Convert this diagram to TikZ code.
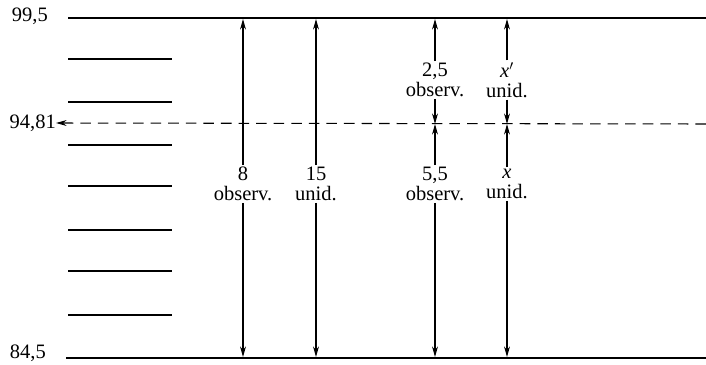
\documentclass[tikz,border=0pt]{standalone}
\usepackage{fontspec}
\setmainfont{Liberation Serif}
\usetikzlibrary{positioning, arrows.meta}

\begin{document}
\begin{tikzpicture}[
    x=0.03cm, y=-0.03cm,
    level/.style={line width=1.3pt},
    mark line/.style={line width=1.2pt},
    guide/.style={dash pattern=on 9pt off 6pt, line width=0.9pt},
    lbl/.style={
        align=center, inner sep=1.5pt,
        font=\fontsize{17.5}{17}\selectfont},
    val/.style={
        anchor=east, inner sep=0pt,
        font=\fontsize{17.5}{17}\selectfont},
    arr/.style={-{Stealth[length=9pt, width=5pt]}, line width=0.9pt}
]
\useasboundingbox (0,0) rectangle (706,364);

%% ── Limits (top and bottom) ─────────────────────────────────────
\coordinate (top_l) at (68, 18);
\coordinate (top_r) at (706, 18);
\coordinate (bot_l) at (66, 358);
\coordinate (bot_r) at (706, 358);
\draw[level] (top_l) -- (top_r);
\draw[level] (bot_l) -- (bot_r);
\node[val] (v_top) at (48, 16) {99,5};
\node[val] (v_bot) at (46, 353) {84,5};

%% ── Short marks (left) ──────────────────────────────────────────
\foreach \yy in {59, 102, 145, 186, 230, 271, 315}
    \draw[mark line] (68, \yy) -- (172, \yy);

%% ── Dashed guide ────────────────────────────────────────────────
\coordinate (mid_r) at (706, 124);
\node[val] (v_mid) at (56, 123) {94,81};
\draw[guide, -{Stealth[length=9pt, width=5pt]}] (mid_r) -- (v_mid.east);

%% ── Full-range labels ───────────────────────────────────────────
\node[lbl] (l8)  at (243, 184) {8\\observ.};
\node[lbl] (l15) at (316, 184) {15\\unid.};

%% ── Split labels ────────────────────────────────────────────────
\node[lbl] (l25) at (435, 80)  {2,5\\observ.};
\node[lbl] (lxp) at (507, 80)  {\textit{x}$'$\\unid.};
\node[lbl] (l55) at (435, 184) {5,5\\observ.};
\node[lbl] (lx)  at (507, 184) {\textit{x}\\unid.};

%% ── Points on the lines ─────────────────────────────────────────
\coordinate (t8)  at (243, 19);  \coordinate (b8)  at (243, 357);
\coordinate (t15) at (316, 19);  \coordinate (b15) at (316, 357);
\coordinate (t25) at (435, 19);  \coordinate (b55) at (435, 357);
\coordinate (txp) at (507, 19);  \coordinate (bx)  at (507, 357);
\coordinate (m25) at (435, 124); \coordinate (mxp) at (507, 124);

%% ── Arrows: 8 and 15 ────────────────────────────────────────────
\draw[arr] (l8.north)  -- (t8);
\draw[arr] (l8.south)  -- (b8);
\draw[arr] (l15.north) -- (t15);
\draw[arr] (l15.south) -- (b15);

%% ── Arrows: upper part ──────────────────────────────────────────
\draw[arr] (l25.north) -- (t25);
\draw[arr] (l25.south) -- (m25);
\draw[arr] (lxp.north) -- (txp);
\draw[arr] (lxp.south) -- (mxp);

%% ── Arrows: lower part ──────────────────────────────────────────
\draw[arr] (l55.north) -- (m25);
\draw[arr] (l55.south) -- (b55);
\draw[arr] (lx.north)  -- (mxp);
\draw[arr] (lx.south)  -- (bx);

\end{tikzpicture}
\end{document}
